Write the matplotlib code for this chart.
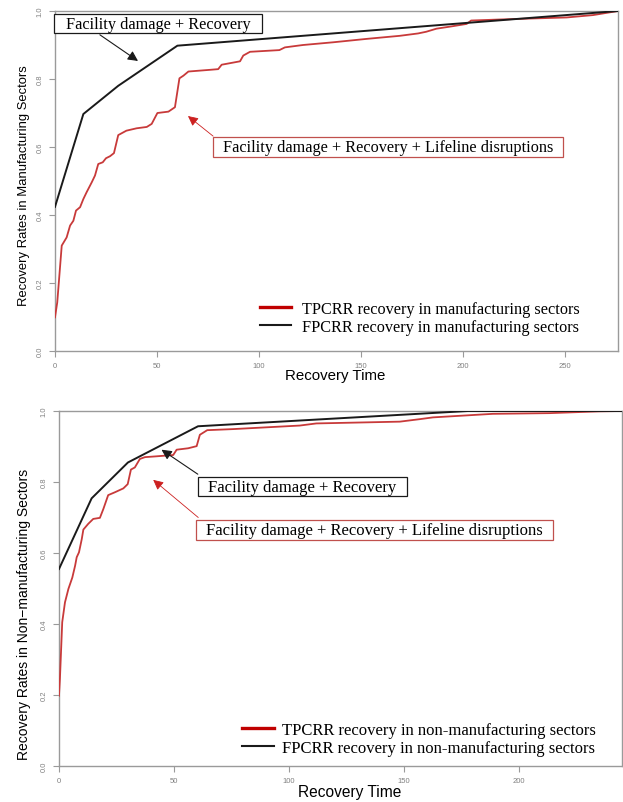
import matplotlib
matplotlib.use("Agg")
import matplotlib.pyplot as plt
from matplotlib.path import Path
from matplotlib.lines import Line2D

# ---------------- data ----------------
man_tp_x = [0, 1.1, 3.3, 5.7, 7.4, 9, 10.3, 12.3, 13.9, 15.5, 18, 19.6, 21.2, 23.4, 25, 27,
            28.9, 31, 35, 40, 45, 47.4, 50.2, 55.6, 58.8, 61, 63, 65.4, 76, 80, 81.7, 90.7,
            92.3, 95.6, 110, 112.7, 121.6, 136.4, 152.8, 169, 178, 182, 187, 193.6, 201.8,
            204, 218, 234, 250.8, 263.8, 276]
man_tp_y = [0.099, 0.143, 0.31, 0.334, 0.369, 0.383, 0.413, 0.423, 0.447, 0.467, 0.496, 0.516,
            0.55, 0.555, 0.567, 0.573, 0.582, 0.635, 0.648, 0.655, 0.659, 0.668, 0.70, 0.704,
            0.717, 0.802, 0.81, 0.822, 0.827, 0.829, 0.842, 0.852, 0.869, 0.880, 0.885, 0.893,
            0.9, 0.908, 0.918, 0.927, 0.934, 0.939, 0.948, 0.954, 0.962, 0.972, 0.975, 0.978,
            0.981, 0.988, 1.0]
man_fp_x = [0, 13.9, 31, 60, 276]
man_fp_y = [0.424, 0.697, 0.78, 0.898, 1.0]

non_tp_x = [0, 0.4, 1.4, 2.6, 4.1, 5.8, 7, 7.7, 8.7, 9.9, 10.6, 12.7, 14.9, 17.8, 19.3, 21.4,
            24.3, 28, 29.9, 31.3, 33, 35.2, 37.4, 41.7, 49.7, 51.2, 56.2, 59.9, 61.3, 64.5,
            75.7, 104.8, 112, 133.8, 148.3, 157, 162.7, 188.8, 213.5, 235, 245]
non_tp_y = [0.198, 0.245, 0.405, 0.461, 0.499, 0.531, 0.564, 0.588, 0.602, 0.639, 0.666, 0.682,
            0.696, 0.699, 0.724, 0.763, 0.771, 0.782, 0.794, 0.835, 0.841, 0.865, 0.87, 0.872,
            0.876, 0.891, 0.895, 0.901, 0.933, 0.946, 0.949, 0.959, 0.965, 0.968, 0.970, 0.977,
            0.982, 0.992, 0.994, 0.999, 1.0]
non_fp_x = [0, 14.2, 30, 60.5, 178, 245]
non_fp_y = [0.555, 0.754, 0.855, 0.957, 1.0, 1.0]

x_ticks_man = [0, 50, 100, 150, 200, 250]
x_ticks_non = [0, 50, 100, 150, 200]
y_ticks = [0.0, 0.2, 0.4, 0.6, 0.8, 1.0]

label_fd = "Facility damage + Recovery"
label_fdl = "Facility damage + Recovery + Lifeline disruptions"

RED = "#c83a3a"
RED_LEG = "#c00000"
RED_EDGE = "#c0504d"
BLACK = "#1a1a1a"
GRAY = "#9a9a9a"
SERIF = "Liberation Serif"
SANS = "Liberation Sans"


def make_box(hpad, vpad):
    def box(x0, y0, width, height, mutation_size):
        hp = hpad * mutation_size
        vp = vpad * mutation_size
        verts = [(x0 - hp, y0 - vp), (x0 + width + hp, y0 - vp),
                 (x0 + width + hp, y0 + height + vp), (x0 - hp, y0 + height + vp),
                 (x0 - hp, y0 - vp)]
        return Path(verts, closed=True)
    return box


def style_axes(ax, xmax, xticks):
    ax.set_xlim(0, xmax)
    ax.set_ylim(0, 1)
    ax.set_xticks(xticks)
    ax.set_yticks(y_ticks)
    ax.set_xticklabels([str(t) for t in xticks])
    ax.set_yticklabels([f"{t:.1f}" for t in y_ticks], rotation=90, va="center")
    for s in ax.spines.values():
        s.set_color(GRAY)
        s.set_linewidth(1.0)
    ax.tick_params(axis="both", colors=GRAY, labelcolor="#808080", labelsize=5.5,
                   length=4, width=0.8, direction="out", pad=4)
    for lab in ax.get_xticklabels() + ax.get_yticklabels():
        lab.set_family(SANS)


fig = plt.figure(figsize=(6.23, 8.03), dpi=100)

# ---------------- top panel ----------------
ax1 = fig.add_axes([55 / 623, (803 - 352) / 803, 563 / 623, 340 / 803])
ax1.plot(man_tp_x, man_tp_y, color=RED, lw=1.3, zorder=3)
ax1.plot(man_fp_x, man_fp_y, color=BLACK, lw=1.4, zorder=3)
style_axes(ax1, 276, x_ticks_man)
ax1.set_xlabel("Recovery Time", family=SANS, fontsize=10.8)
ax1.set_ylabel("Recovery Rates in Manufacturing Sectors", family=SANS, fontsize=9.4)
ax1.xaxis.set_label_coords(0.498, -0.05)
ax1.yaxis.set_label_coords(-0.044, 0.49)

ax1.text(50.7, 0.963, label_fd, family=SERIF, fontsize=11.7, ha="center", va="center",
         bbox=dict(boxstyle=make_box(0.72, 0.1), fc="white", ec=BLACK, lw=0.9), zorder=5)
ax1.annotate("", xy=(40.7, 0.853), xytext=(22, 0.93),
             arrowprops=dict(arrowstyle="-|>", color=BLACK, lw=0.8, mutation_scale=15,
                             shrinkA=0, shrinkB=0))
ax1.text(163.2, 0.6, label_fdl, family=SERIF, fontsize=11.7, ha="center", va="center",
         bbox=dict(boxstyle=make_box(0.62, 0.1), fc="white", ec=RED_EDGE, lw=0.9), zorder=5)
ax1.annotate("", xy=(65.2, 0.691), xytext=(77.5, 0.632),
             arrowprops=dict(arrowstyle="-|>", color="#cc2020", lw=0.6, mutation_scale=15,
                             shrinkA=0, shrinkB=0))

h1 = [Line2D([], [], color=RED_LEG, lw=2.4), Line2D([], [], color=BLACK, lw=1.5)]
ax1.legend(h1, ["TPCRR recovery in manufacturing sectors",
                "FPCRR recovery in manufacturing sectors"],
           loc="upper left", bbox_to_anchor=(0.364, 0.148), frameon=False,
           prop=dict(family=SERIF, size=11.7), handlelength=1.9, handletextpad=0.7,
           labelspacing=0.12, borderpad=0, borderaxespad=0)

# ---------------- bottom panel ----------------
ax2 = fig.add_axes([59 / 623, 36 / 803, 563 / 623, 355 / 803])
ax2.plot(non_tp_x, non_tp_y, color=RED, lw=1.3, zorder=3)
ax2.plot(non_fp_x, non_fp_y, color=BLACK, lw=1.4, zorder=3)
style_axes(ax2, 245, x_ticks_non)
ax2.set_xlabel("Recovery Time", family=SANS, fontsize=11.2)
ax2.set_ylabel("Recovery Rates in Non\u2212manufacturing Sectors", family=SANS, fontsize=10)
ax2.xaxis.set_label_coords(0.516, -0.05)
ax2.yaxis.set_label_coords(-0.05, 0.43)

ax2.text(105.9, 0.787, label_fd, family=SERIF, fontsize=12, ha="center", va="center",
         bbox=dict(boxstyle=make_box(0.62, 0.1), fc="white", ec=BLACK, lw=0.9), zorder=5)
ax2.annotate("", xy=(44.6, 0.891), xytext=(60.4, 0.822),
             arrowprops=dict(arrowstyle="-|>", color=BLACK, lw=0.8, mutation_scale=15,
                             shrinkA=0, shrinkB=0))
ax2.text(137.4, 0.665, label_fdl, family=SERIF, fontsize=12, ha="center", va="center",
         bbox=dict(boxstyle=make_box(0.62, 0.1), fc="white", ec=RED_EDGE, lw=0.9), zorder=5)
ax2.annotate("", xy=(41, 0.806), xytext=(60.6, 0.70),
             arrowprops=dict(arrowstyle="-|>", color="#cc2020", lw=0.6, mutation_scale=15,
                             shrinkA=0, shrinkB=0))

h2 = [Line2D([], [], color=RED_LEG, lw=2.4), Line2D([], [], color=BLACK, lw=1.5)]
ax2.legend(h2, ["TPCRR recovery in non-manufacturing sectors",
                "FPCRR recovery in non-manufacturing sectors"],
           loc="upper left", bbox_to_anchor=(0.325, 0.124), frameon=False,
           prop=dict(family=SERIF, size=12), handlelength=1.9, handletextpad=0.5,
           labelspacing=0.12, borderpad=0, borderaxespad=0)

fig.savefig("out.png", dpi=100, facecolor="white")
